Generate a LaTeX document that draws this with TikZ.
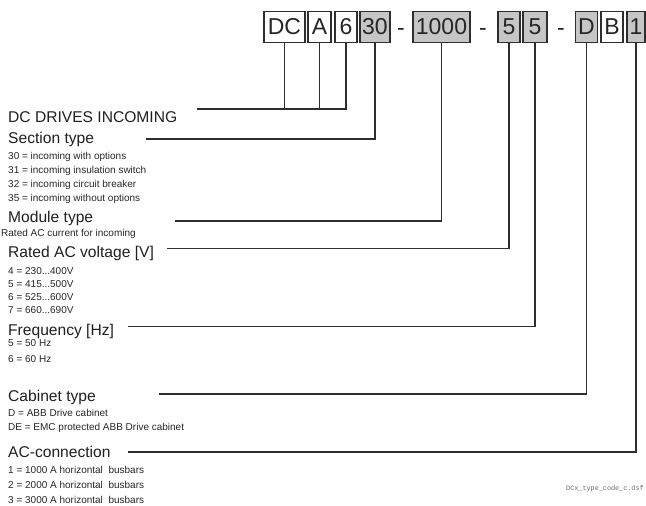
\documentclass[tikz,border=0pt]{standalone}
\usepackage{fontspec}
\setmainfont{Liberation Sans}
\setmonofont{Liberation Mono}
\definecolor{ln}{HTML}{2E2E2E}
\definecolor{gf}{HTML}{C6C6C6}
\tikzset{
  cbox/.style={draw=ln, line width=1.3pt, inner sep=0pt, minimum height=31pt, font=\fontsize{23}{23}\selectfont, text=black!85},
  wbox/.style={cbox, fill=white},
  gbox/.style={cbox, fill=gf},
  dsh/.style={anchor=base, font=\fontsize{23}{23}\selectfont, text=black!85, inner sep=0pt},
  hdr/.style={anchor=west, inner sep=0pt, font=\fontsize{15.6}{16}\selectfont, text=black!88},
  itm/.style={anchor=west, inner sep=0pt, font=\fontsize{10}{10}\selectfont, text=black!85},
  conn/.style={draw=ln, line width=1.4pt},
}
\begin{document}
\begin{tikzpicture}[x=1pt,y=-1pt]
\useasboundingbox (0,0) rectangle (646,506);
% code boxes
\node[wbox, minimum width=41pt] (bDC) at (284.5,27) {DC};
\node[wbox, minimum width=23pt] (bA) at (319.5,27) {A};
\node[wbox, minimum width=22pt] (b6) at (346,27) {6};
\node[gbox, minimum width=30pt] (b30) at (375,27) {30};
\node[dsh] (d1) at (401,35) {-};
\node[gbox, minimum width=57pt] (b1000) at (441.5,27) {1000};
\node[dsh] (d2) at (483,35) {-};
\node[gbox, minimum width=22pt] (b5a) at (509,27) {5};
\node[gbox, minimum width=24pt] (b5b) at (535,27) {5};
\node[dsh] (d3) at (561,35) {-};
\node[gbox, minimum width=22pt] (bD) at (586.5,27) {D};
\node[wbox, minimum width=22pt] (bB) at (612,27) {B};
\node[gbox, minimum width=18pt] (b1) at (636,27) {1};

% labels
\node[hdr] (hDC) at (8,117) {DC DRIVES INCOMING};
\node[hdr] (hSec) at (8,139) {Section type};
\node[itm] (s30) at (8,157) {30 = incoming with options};
\node[itm] (s31) at (8,171) {31 = incoming insulation switch};
\node[itm] (s32) at (8,185) {32 = incoming circuit breaker};
\node[itm] (s35) at (8,199) {35 = incoming without options};
\node[hdr] (hMod) at (8,218) {Module type};
\node[itm] (m1) at (1,234) {Rated AC current for incoming};
\node[hdr] (hVol) at (8,253) {Rated AC voltage [V]};
\node[itm] (v4) at (8,271) {4 = 230...400V};
\node[itm] (v5) at (8,284) {5 = 415...500V};
\node[itm] (v6) at (8,297) {6 = 525...600V};
\node[itm] (v7) at (8,310) {7 = 660...690V};
\node[hdr] (hFr) at (8,331) {Frequency [Hz]};
\node[itm] (f5) at (8,343) {5 = 50 Hz};
\node[itm] (f6) at (8,359) {6 = 60 Hz};
\node[hdr] (hCab) at (8,397) {Cabinet type};
\node[itm] (c1) at (8,413) {D = ABB Drive cabinet};
\node[itm] (c2) at (8,428) {DE = EMC protected ABB Drive cabinet};
\node[hdr] (hAC) at (8,452) {AC-connection};
\node[itm] (a1) at (8,470) {1 = 1000 A horizontal\ \ busbars};
\node[itm] (a2) at (8,485) {2 = 2000 A horizontal\ \ busbars};
\node[itm] (a3) at (8,500) {3 = 3000 A horizontal\ \ busbars};
\node[anchor=west, inner sep=0pt, font=\ttfamily\fontsize{6.8}{7}\selectfont, text=black!60] (fn) at (566,489) {DCx\_type\_code\_c.dsf};

% connector end points
\coordinate (jDC) at (197,109);
\coordinate (jSec) at (146,139);
\coordinate (jMod) at (175,221);
\coordinate (jVol) at (167,248.5);
\coordinate (jFr) at (128,326.5);
\coordinate (jCab) at (159,394);
\coordinate (jAC) at (128,452);

% connectors
\draw[conn] (jDC) -- (jDC -| b6.south) -- (b6.south);
\draw[conn] (bDC.south) -- (bDC.south |- jDC);
\draw[conn] (bA.south) -- (bA.south |- jDC);
\draw[conn] (jSec) -- (jSec -| b30.south) -- (b30.south);
\draw[conn] (jMod) -- (jMod -| b1000.south) -- (b1000.south);
\draw[conn] (jVol) -- (jVol -| b5a.south) -- (b5a.south);
\draw[conn] (jFr) -- (jFr -| b5b.south) -- (b5b.south);
\draw[conn] (jCab) -- (jCab -| bD.south) -- (bD.south);
\draw[conn] (jAC) -- (jAC -| b1.south) -- (b1.south);
\end{tikzpicture}
\end{document}
